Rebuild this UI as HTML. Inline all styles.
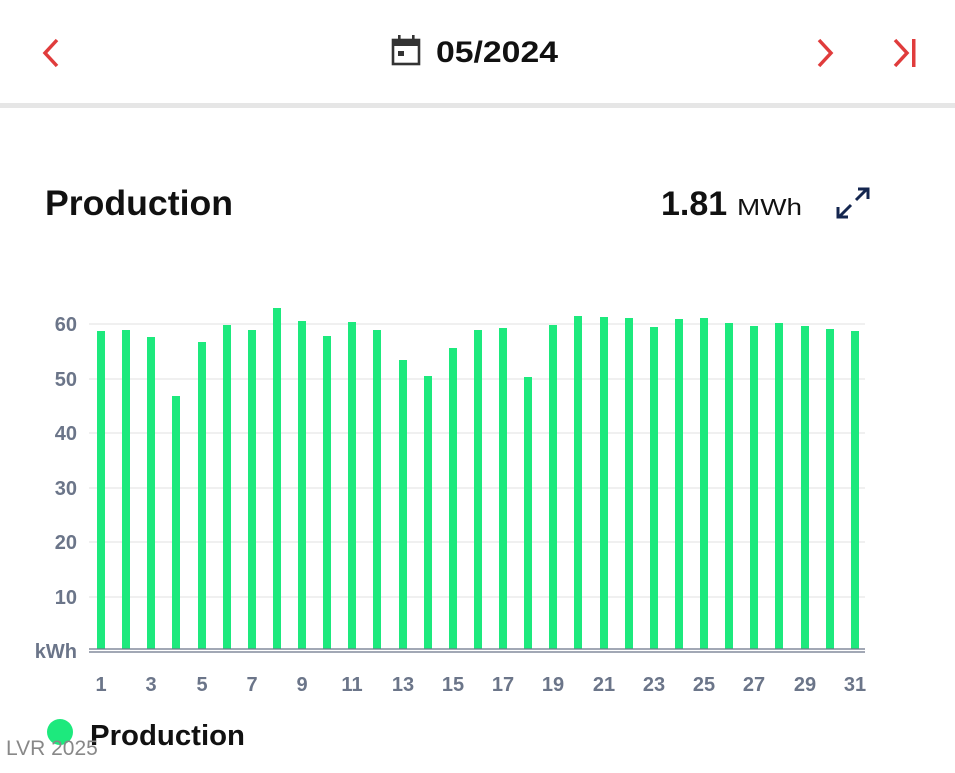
<!DOCTYPE html>
<html><head><meta charset="utf-8"><style>
body{margin:0;width:955px;height:768px;background:#fff;overflow:hidden;font-family:"Liberation Sans",sans-serif}
</style></head><body>
<svg width="955" height="768" viewBox="0 0 955 768" xmlns="http://www.w3.org/2000/svg" font-family="Liberation Sans, sans-serif">
<path d="M57 40 L45 53 L57 66" fill="none" stroke="#e03c3c" stroke-width="3.5"/>
<path d="M819 40 L831 53 L819 66" fill="none" stroke="#e03c3c" stroke-width="3.5"/>
<path d="M895 40 L907 53 L895 66" fill="none" stroke="#e03c3c" stroke-width="3.5"/>
<rect x="912" y="39" width="3.5" height="28" fill="#e03c3c"/>
<rect x="393" y="40" width="26" height="24" fill="none" stroke="#333" stroke-width="2.6"/>
<rect x="393" y="40" width="26" height="6" fill="#333"/>
<rect x="398" y="35" width="2.6" height="7" fill="#333"/>
<rect x="412" y="35" width="2.6" height="7" fill="#333"/>
<rect x="398" y="51" width="6" height="5" fill="#333"/>
<text x="436" y="62" font-size="30" font-weight="bold" fill="#111" textLength="122" lengthAdjust="spacingAndGlyphs">05/2024</text>
<rect x="0" y="103" width="955" height="5" fill="#e6e6e6"/>
<text x="45" y="215" font-size="35" font-weight="bold" fill="#111" textLength="188" lengthAdjust="spacingAndGlyphs">Production</text>
<text x="661" y="215" font-size="34" font-weight="bold" fill="#111">1.81</text>
<text x="737" y="215" font-size="23" fill="#111" textLength="65" lengthAdjust="spacingAndGlyphs">MWh</text>
<g stroke="#14264f" stroke-width="3" fill="none">
<path d="M840 216 L851 205"/><path d="M838 207 L838 217 L848 217"/>
<path d="M856 200 L867 189"/><path d="M858 189 L868 189 L868 199"/>
</g>
<g stroke="#ececec" stroke-width="1.5">
<line x1="89" y1="324" x2="865" y2="324"/><line x1="89" y1="379" x2="865" y2="379"/>
<line x1="89" y1="433" x2="865" y2="433"/><line x1="89" y1="488" x2="865" y2="488"/>
<line x1="89" y1="542" x2="865" y2="542"/><line x1="89" y1="597" x2="865" y2="597"/>
</g>
<g font-size="20" fill="#6b7589" text-anchor="end" font-weight="bold">
<text x="77" y="331">60</text><text x="77" y="386">50</text><text x="77" y="440">40</text>
<text x="77" y="495">30</text><text x="77" y="549">20</text><text x="77" y="604">10</text>
<text x="77" y="658">kWh</text>
</g>
<g fill="#1de97d">
<rect x="97" y="331" width="8" height="318"/>
<rect x="122" y="330" width="8" height="319"/>
<rect x="147" y="337" width="8" height="312"/>
<rect x="172" y="396" width="8" height="253"/>
<rect x="198" y="342" width="8" height="307"/>
<rect x="223" y="325" width="8" height="324"/>
<rect x="248" y="330" width="8" height="319"/>
<rect x="273" y="308" width="8" height="341"/>
<rect x="298" y="321" width="8" height="328"/>
<rect x="323" y="336" width="8" height="313"/>
<rect x="348" y="322" width="8" height="327"/>
<rect x="373" y="330" width="8" height="319"/>
<rect x="399" y="360" width="8" height="289"/>
<rect x="424" y="376" width="8" height="273"/>
<rect x="449" y="348" width="8" height="301"/>
<rect x="474" y="330" width="8" height="319"/>
<rect x="499" y="328" width="8" height="321"/>
<rect x="524" y="377" width="8" height="272"/>
<rect x="549" y="325" width="8" height="324"/>
<rect x="574" y="316" width="8" height="333"/>
<rect x="600" y="317" width="8" height="332"/>
<rect x="625" y="318" width="8" height="331"/>
<rect x="650" y="327" width="8" height="322"/>
<rect x="675" y="319" width="8" height="330"/>
<rect x="700" y="318" width="8" height="331"/>
<rect x="725" y="323" width="8" height="326"/>
<rect x="750" y="326" width="8" height="323"/>
<rect x="775" y="323" width="8" height="326"/>
<rect x="801" y="326" width="8" height="323"/>
<rect x="826" y="329" width="8" height="320"/>
<rect x="851" y="331" width="8" height="318"/>
</g>
<line x1="89" y1="649" x2="865" y2="649" stroke="#6b7589" stroke-width="1.2"/>
<line x1="89" y1="652" x2="865" y2="652" stroke="#6b7589" stroke-width="1.2"/>
<g font-size="20" fill="#6b7589" text-anchor="middle" font-weight="bold">
<text x="101" y="691">1</text><text x="151" y="691">3</text><text x="202" y="691">5</text>
<text x="252" y="691">7</text><text x="302" y="691">9</text><text x="352" y="691">11</text>
<text x="403" y="691">13</text><text x="453" y="691">15</text><text x="503" y="691">17</text>
<text x="553" y="691">19</text><text x="604" y="691">21</text><text x="654" y="691">23</text>
<text x="704" y="691">25</text><text x="754" y="691">27</text><text x="805" y="691">29</text>
<text x="855" y="691">31</text>
</g>
<circle cx="60" cy="732" r="13" fill="#1de97d"/>
<text x="90" y="745" font-size="29" font-weight="bold" fill="#111" textLength="155" lengthAdjust="spacingAndGlyphs">Production</text>
<text x="6" y="755" font-size="21" fill="#888">LVR 2025</text>
</svg>
</body></html>
